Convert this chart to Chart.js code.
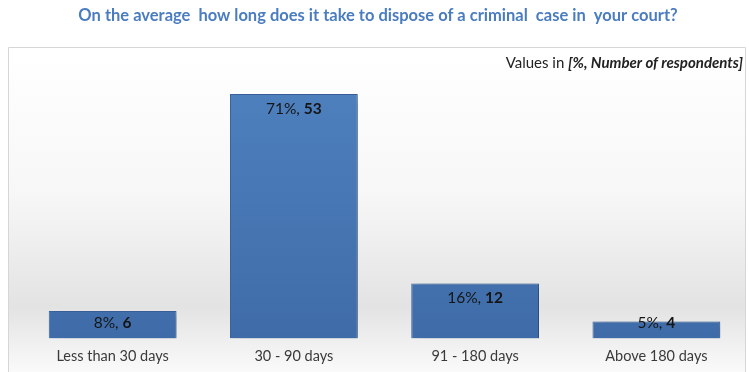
<!DOCTYPE html>
<html>
<head>
<meta charset="utf-8">
<script src="https://cdn.jsdelivr.net/npm/chart.js@4/dist/chart.umd.min.js"></script>
<style>
html,body{margin:0;padding:0;background:#fff;}
#wrap{width:749px;height:372px;position:relative;}
</style>
</head>
<body>
<div id="wrap"><canvas id="c" width="749" height="372"></canvas></div>
<script>
const categories = ["Less than 30 days", "30 - 90 days", "91 - 180 days", "Above 180 days"];
const percents = [8, 71, 16, 5];
const counts = [6, 53, 12, 4];
const titleText = "On the average  how long does it take to dispose of a criminal  case in  your court?";
const noteText = "Values in ";
const noteItalic = "[%, Number of respondents]";

const FONT = "Lato, 'Open Sans', sans-serif";

const bgPlugin = {
  id: 'bg',
  beforeDraw(chart) {
    const ctx = chart.ctx;
    ctx.save();
    ctx.fillStyle = '#fff';
    ctx.fillRect(0, 0, chart.width, chart.height);
    const g = ctx.createLinearGradient(0, 47, 0, 372);
    g.addColorStop(0, '#ffffff');
    g.addColorStop(0.45, '#f7f7f7');
    g.addColorStop(0.8, '#e3e3e3');
    g.addColorStop(1, '#fafafa');
    ctx.fillStyle = g;
    ctx.fillRect(8, 47, 737, 330);
    ctx.strokeStyle = '#d6d6d6';
    ctx.lineWidth = 1;
    ctx.beginPath();
    ctx.moveTo(8.5, 380);
    ctx.lineTo(8.5, 47.5);
    ctx.lineTo(745.5, 47.5);
    ctx.lineTo(745.5, 380);
    ctx.stroke();
    // title
    ctx.fillStyle = '#4a7cc0';
    ctx.font = "bold 16.5px " + FONT;
    ctx.textAlign = 'center';
    ctx.textBaseline = 'middle';
    ctx.fillText(titleText, 378, 16);
    // note
    ctx.textAlign = 'left';
    ctx.font = "bold italic 15px " + FONT;
    const w2 = ctx.measureText(noteItalic).width;
    ctx.font = "15px " + FONT;
    const w1 = ctx.measureText(noteText).width;
    const right = 743;
    ctx.fillStyle = '#222';
    ctx.fillText(noteText, right - w2 - w1, 63);
    ctx.font = "bold italic 15px " + FONT;
    ctx.fillText(noteItalic, right - w2, 63);
    ctx.restore();
  },
  beforeDatasetsDraw(chart) {
    const ctx = chart.ctx;
    ctx.save();
    ctx.shadowColor = 'rgba(0,0,0,0.25)';
    ctx.shadowBlur = 8;
    ctx.shadowOffsetX = 6;
    ctx.shadowOffsetY = 2;
  },
  afterDatasetsDraw(chart) {
    const ctx = chart.ctx;
    ctx.restore();
    const meta = chart.getDatasetMeta(0);
    const bottom = chart.scales.y.getPixelForValue(0);
    ctx.save();
    ctx.textBaseline = 'middle';
    ctx.fillStyle = '#151515';
    meta.data.forEach((bar, i) => {
      const t1 = percents[i] + "%, ";
      const t2 = String(counts[i]);
      ctx.font = "15.5px " + FONT;
      const w1 = ctx.measureText(t1).width;
      ctx.font = "bold 15.5px " + FONT;
      const w2 = ctx.measureText(t2).width;
      const x0 = bar.x - (w1 + w2) / 2;
      const y = Math.min(bar.y + 15, bottom - 16);
      ctx.font = "15.5px " + FONT;
      ctx.textAlign = 'left';
      ctx.fillText(t1, x0, y);
      ctx.font = "bold 15.5px " + FONT;
      ctx.fillText(t2, x0 + w1, y);
    });
    ctx.restore();
  }
};

new Chart(document.getElementById('c'), {
  type: 'bar',
  data: {
    labels: categories,
    datasets: [{
      data: percents,
      backgroundColor: (c) => {
        const area = c.chart.chartArea;
        if (!area) return '#4a7bb7';
        const g = c.chart.ctx.createLinearGradient(0, area.top, 0, area.bottom);
        g.addColorStop(0, '#4f82c0');
        g.addColorStop(1, '#3f6ca8');
        return g;
      },
      borderColor: '#3a64a0',
      borderWidth: 1,
      categoryPercentage: 0.705,
      barPercentage: 1.0
    }]
  },
  options: {
    responsive: false,
    animation: false,
    events: [],
    layout: { padding: { left: 22, right: 2, top: 63, bottom: 6 } },
    plugins: { legend: { display: false }, tooltip: { enabled: false }, title: { display: false } },
    scales: {
      x: {
        grid: { display: false, drawBorder: false },
        border: { display: false },
        ticks: { color: '#3a3a3a', font: { family: FONT, size: 14.5 }, padding: 1, maxRotation: 0 }
      },
      y: {
        display: false,
        min: 0,
        max: 80
      }
    }
  },
  plugins: [bgPlugin]
});
</script>
</body>
</html>
